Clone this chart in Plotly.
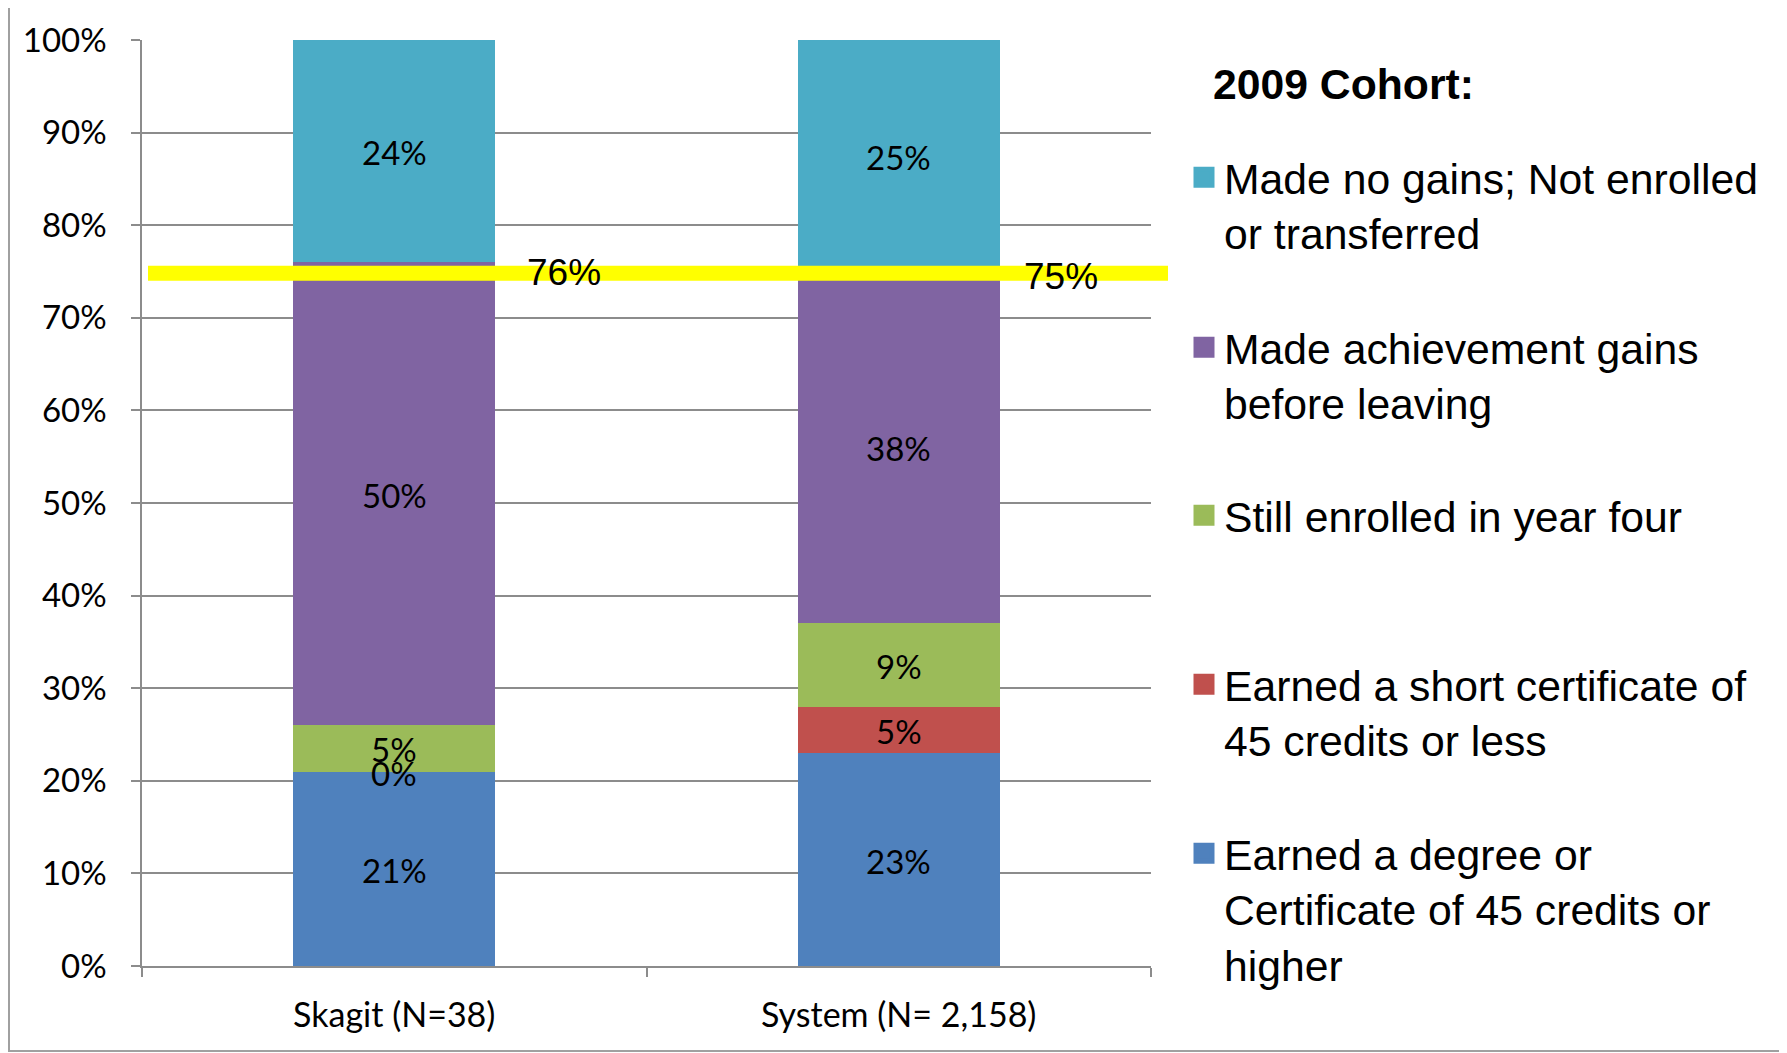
import numpy as np
import plotly.graph_objects as go

# ---------------- data ----------------
categories = ["Skagit (N=38)", "System (N= 2,158)"]
series_names = [
    "Earned a degree or<br>Certificate of 45 credits or<br>higher",
    "Earned a short certificate of<br>45 credits or less",
    "Still enrolled in year four",
    "Made achievement gains<br>before leaving",
    "Made no gains; Not enrolled<br>or transferred",
]
degree_vals = [21, 23]
short_cert_vals = [0, 5]
still_enrolled_vals = [5, 9]
gains_vals = [50, 38]
no_gains_vals = [24, 25]
reference_line_value = 74.8
y_tick_vals = [0, 10, 20, 30, 40, 50, 60, 70, 80, 90, 100]
y_tick_text = ["0%", "10%", "20%", "30%", "40%", "50%", "60%", "70%", "80%", "90%", "100%"]
legend_title = "2009 Cohort:"

series_values = [degree_vals, short_cert_vals, still_enrolled_vals, gains_vals, no_gains_vals]
colors = ["#4F81BD", "#C0504D", "#9BBB59", "#8064A2", "#4BACC6"]
legend_ids = ["legend5", "legend4", "legend3", "legend2", "legend"]

# ---------------- layout geometry ----------------
OFF = 8  # page body margin
W, H = 1779, 1045
ML, MR, MT, MB = 134, 636, 32, 87
PW = W - ML - MR
PH = H - MT - MB


def px_x(sx):
    return (sx - OFF - ML) / PW


def px_y(sy):
    return (H - MB - (sy - OFF)) / PH


fig = go.Figure()

for name, vals, col, lg in zip(series_names, series_values, colors, legend_ids):
    fig.add_trace(go.Bar(
        x=categories, y=vals, name=name,
        marker=dict(color=col, line=dict(width=0)),
        width=0.4, showlegend=False, hoverinfo="skip",
    ))
    # legend key (square swatch)
    fig.add_trace(go.Scatter(
        x=[None], y=[None], mode="markers", name=name, legend=lg,
        marker=dict(symbol="square", size=16, color=col, line=dict(color=col, width=5)),
        hoverinfo="skip",
    ))

# data labels at segment midpoints
vals_arr = np.array(series_values, dtype=float)
cum = np.cumsum(vals_arr, axis=0)
mids = cum - vals_arr / 2
for i in range(vals_arr.shape[0]):
    for j, c in enumerate(categories):
        fig.add_annotation(
            x=c, y=mids[i, j], text=f"{int(vals_arr[i, j])}%", showarrow=False,
            yshift=-1, font=dict(family="Lato", size=33, color="black"),
        )

# totals of bottom four segments next to yellow line
totals = cum[3]
for j, c in enumerate(categories):
    fig.add_annotation(
        x=c, y=reference_line_value, text=f"{int(totals[j])}%",
        showarrow=False, xshift=[170, 162][j], yshift=1 - 4 * j,
        font=dict(family="Liberation Sans, Arial", size=37, color="black"),
    )

# yellow reference line
fig.add_shape(type="line", xref="paper", yref="y",
              x0=px_x(148), x1=px_x(1168), y0=reference_line_value, y1=reference_line_value,
              line=dict(color="#FFFF00", width=15), layer="above")

# outer border
fig.add_shape(type="rect", xref="paper", yref="paper",
              x0=px_x(9), x1=px_x(1785), y0=px_y(1051), y1=px_y(5),
              line=dict(color="#A0A0A0", width=2), layer="below")

# legend title
fig.add_annotation(
    xref="paper", yref="paper", x=px_x(1211), y=px_y(84),
    xanchor="left", yanchor="middle", showarrow=False, text=f"<b>{legend_title}</b>",
    font=dict(family="Liberation Sans, Arial", size=42.7, color="black"),
)

legend_first_line_centers = {"legend": 179, "legend2": 349, "legend3": 517, "legend4": 686, "legend5": 855}
legend_font = dict(family="Liberation Sans, Arial", size=42.7, color="black")
leg_layout = {}
for lg, cy in legend_first_line_centers.items():
    leg_layout[lg] = dict(
        x=px_x(1184), y=px_y(cy - 36), xanchor="left", yanchor="top",
        font=legend_font, bgcolor="rgba(0,0,0,0)", borderwidth=0,
        valign="top", traceorder="normal",
    )

fig.update_layout(
    width=W, height=H,
    margin=dict(l=ML, r=MR, t=MT, b=MB, autoexpand=False),
    barmode="stack",
    paper_bgcolor="white", plot_bgcolor="white",
    showlegend=True,
    **leg_layout,
)

fig.update_yaxes(
    range=[0, 100], tickvals=y_tick_vals, ticktext=y_tick_text,
    showgrid=True, gridcolor="#8C8C8C", gridwidth=1.5,
    showline=True, linecolor="#8C8C8C", linewidth=1.5,
    ticks="outside", ticklen=9, tickcolor="#8C8C8C", tickwidth=1.5,
    tickfont=dict(family="Lato", size=33, color="black"),
    ticklabelstandoff=18, zeroline=False,
)
fig.update_xaxes(
    showline=True, linecolor="#8C8C8C", linewidth=1.5,
    ticks="outside", ticklen=9, tickcolor="#8C8C8C", tickwidth=1.5,
    tickson="boundaries",
    tickfont=dict(family="Lato", size=34, color="black"),
    ticklabelstandoff=18, showgrid=False,
)

fig.write_html("out.html")
